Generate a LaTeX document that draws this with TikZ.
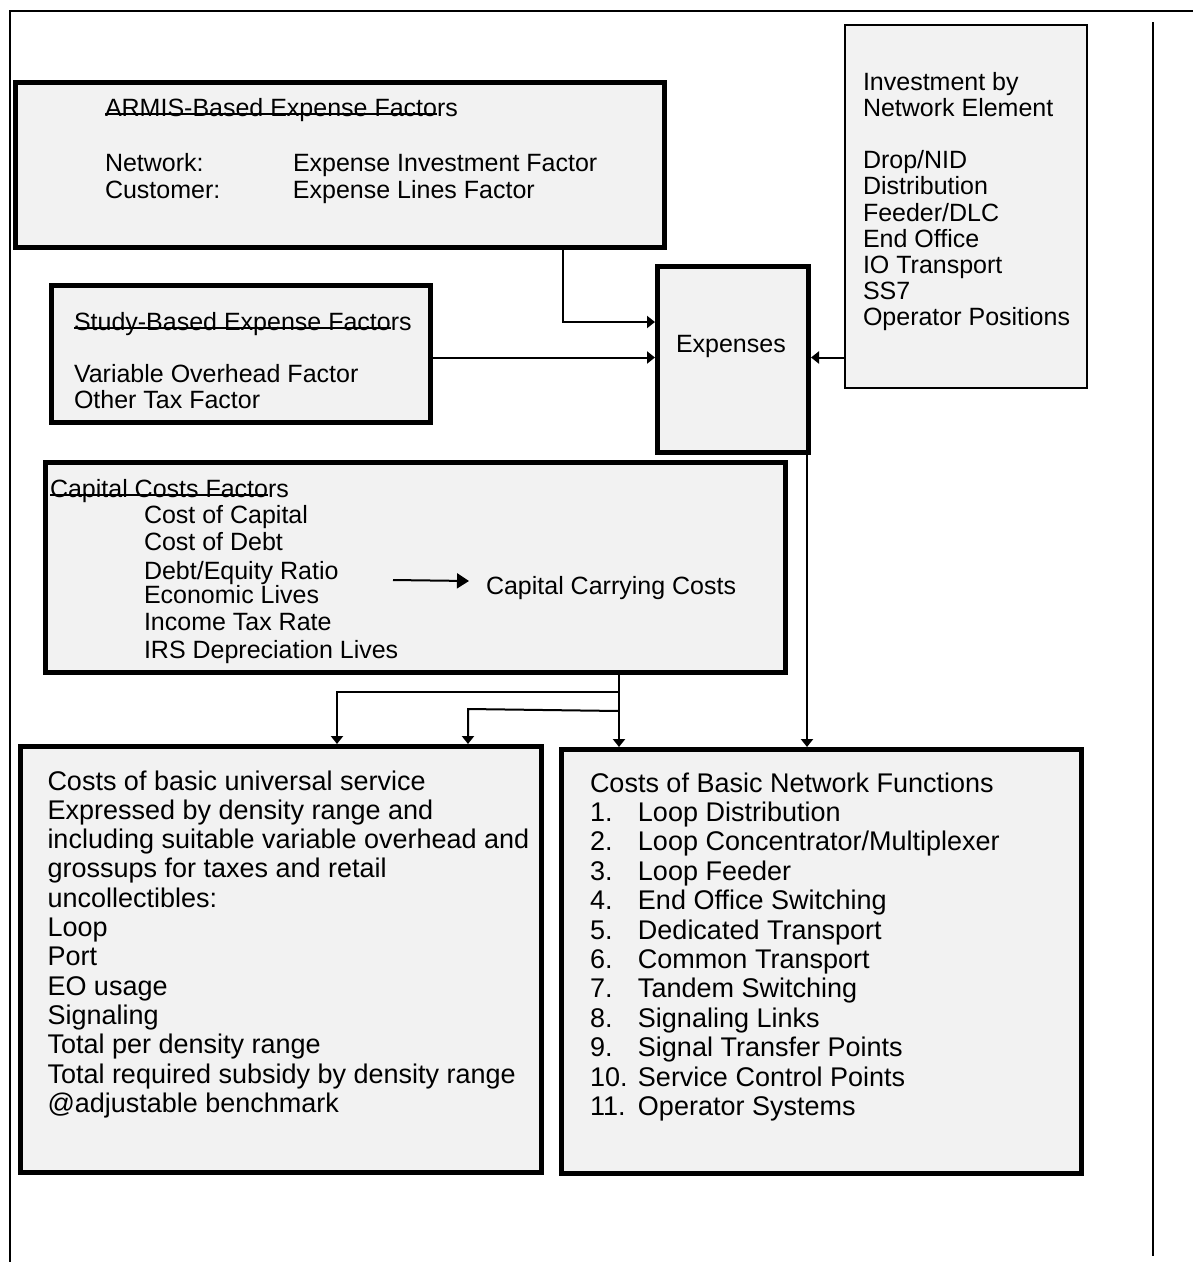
\documentclass[tikz,border=0pt]{standalone}
\usepackage{fontspec}
\setmainfont{Liberation Sans}
\usetikzlibrary{arrows.meta}
\definecolor{boxgray}{HTML}{F2F2F2}
\newcommand{\strk}[1]{\leavevmode\sbox0{#1}\rlap{\rule[1.2pt]{\wd0}{1.8pt}}\usebox0}
\begin{document}
\begin{tikzpicture}[x=1pt,y=-1pt,
  thickbox/.style={draw, line width=5pt, fill=boxgray, rectangle, inner sep=0pt},
  thinbox/.style={draw, line width=2.2pt, fill=boxgray, rectangle, inner sep=0pt},
  conn/.style={line width=2pt, -{Triangle[length=8pt,width=12pt]}},
  txt/.style={anchor=base west, inner sep=0pt, outer sep=0pt},
  frameline/.style={line width=2pt}]
\useasboundingbox (0,0) rectangle (1193,1262);
% frame
\draw[frameline] (10,1262) -- (10,11) -- (1193,11);
\draw[frameline] (1153,22) -- (1153,1256);
% boxes
\node[thickbox, minimum width=649pt, minimum height=165pt] (armis) at (340,165) {};
\node[thickbox, minimum width=379pt, minimum height=137pt] (study) at (241,354) {};
\node[thickbox, minimum width=151pt, minimum height=186pt] (expenses) at (733,359.5) {};
\node[thinbox, minimum width=242pt, minimum height=363pt] (invest) at (966,206.5) {};
\node[thickbox, minimum width=740pt, minimum height=210pt] (capital) at (415.5,567.5) {};
\node[thickbox, minimum width=521pt, minimum height=426pt] (usf) at (281,959.5) {};
\node[thickbox, minimum width=520pt, minimum height=424pt] (bnf) at (821.5,961.5) {};
% texts
\node[txt] (armistext) at (105,116) {\parbox[t]{540pt}{\fontsize{25}{27}\selectfont
  \strk{ARMIS-Based Expense Facto}rs\\[28pt]
  \makebox[188pt][l]{Network:}Expense Investment Factor\\
  \makebox[188pt][l]{Customer:}Expense Lines Factor}};
\node[txt] (studytext) at (74,330) {\parbox[t]{350pt}{\fontsize{25}{26}\selectfont
  \strk{Study-Based Expense Facto}rs\\[26pt]
  Variable Overhead Factor\\
  Other Tax Factor}};
\node[txt] (exptext) at (676,352) {\fontsize{25}{26}\selectfont Expenses};
\node[txt] (investtext) at (863,90) {\parbox[t]{220pt}{\fontsize{25}{26.2}\selectfont
  Investment by\\
  Network Element\\[26.2pt]
  Drop/NID\\
  Distribution\\
  Feeder/DLC\\
  End Office\\
  IO Transport\\
  SS7\\
  Operator Positions}};
\node[txt] (captext) at (50,497) {\parbox[t]{420pt}{\fontsize{25}{26}\selectfont
  \strk{Capital Costs Facto}rs\\
  \hspace*{94pt}Cost of Capital\\[1pt]
  \hspace*{94pt}Cost of Debt\\[3pt]
  \hspace*{94pt}Debt/Equity Ratio\\[-2pt]
  \hspace*{94pt}Economic Lives\\[1pt]
  \hspace*{94pt}Income Tax Rate\\[2pt]
  \hspace*{94pt}IRS Depreciation Lives}};
\node[txt] (cctext) at (486,594) {\fontsize{25}{26}\selectfont Capital Carrying Costs};
\node[txt] (usftext) at (47.5,790) {\parbox[t]{495pt}{\fontsize{27}{29.3}\selectfont
  Costs of basic universal service\\
  Expressed by density range and\\
  including suitable variable overhead and\\
  grossups for taxes and retail\\
  uncollectibles:\\
  Loop\\
  Port\\
  EO usage\\
  Signaling\\
  Total per density range\\
  Total required subsidy by density range\\
  @adjustable benchmark}};
\node[txt] (bnftext) at (590,792) {\parbox[t]{480pt}{\fontsize{27}{29.4}\selectfont
  Costs of Basic Network Functions\\
  \makebox[48pt][l]{1.}Loop Distribution\\
  \makebox[48pt][l]{2.}Loop Concentrator/Multiplexer\\
  \makebox[48pt][l]{3.}Loop Feeder\\
  \makebox[48pt][l]{4.}End Office Switching\\
  \makebox[48pt][l]{5.}Dedicated Transport\\
  \makebox[48pt][l]{6.}Common Transport\\
  \makebox[48pt][l]{7.}Tandem Switching\\
  \makebox[48pt][l]{8.}Signaling Links\\
  \makebox[48pt][l]{9.}Signal Transfer Points\\
  \makebox[48pt][l]{10.}Service Control Points\\
  \makebox[48pt][l]{11.}Operator Systems}};
% connector coordinates
\coordinate (a1) at (563,322);
\coordinate (s1) at (0,357.5);
\coordinate (c1) at (619,692);
\coordinate (b1) at (337,692);
\coordinate (c2) at (619,711);
\coordinate (b2) at (468,709);
\coordinate (e1) at (807,0);
\coordinate (ca1) at (393,580);
\coordinate (ca2) at (469,581);
% connectors
\draw[conn] (armis.south -| a1) -- (a1) -- (expenses.west |- a1);
\draw[conn] (study.east |- s1) -- (expenses.west |- s1);
\draw[conn] (invest.west |- s1) -- (expenses.east |- s1);
\draw[conn] (capital.south -| c1) -- (bnf.north -| c1);
\draw[conn] (c1) -- (b1) -- (usf.north -| b1);
\draw[conn] (c2) -- (b2) -- (usf.north -| b2);
\draw[conn] (expenses.south -| e1) -- (bnf.north -| e1);
\draw[line width=2pt, -{Triangle[length=12pt,width=15pt]}] (ca1) -- (ca2);
\end{tikzpicture}
\end{document}
